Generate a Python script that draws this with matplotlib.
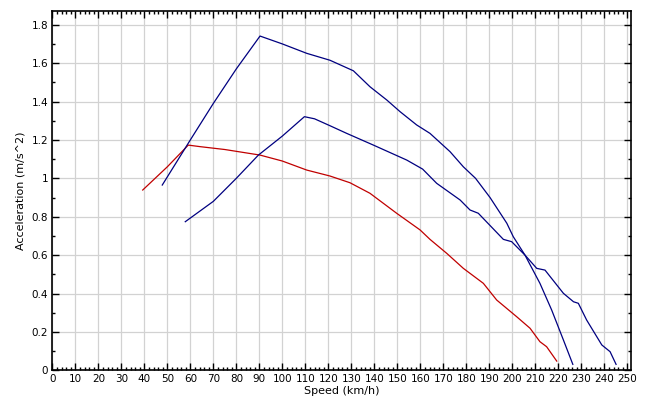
import numpy as np
import matplotlib
matplotlib.use("Agg")
import matplotlib.pyplot as plt
from matplotlib.ticker import MultipleLocator, FormatStrFormatter

# red curve
red_speed = [39.3, 50, 59.1, 64.2, 75, 90.3, 100, 110.6, 120.7, 129.4, 138.1, 149.7,
             159.9, 164.2, 171.5, 178.7, 187.4, 193.2, 201.9, 207.7, 212.0, 214.9, 219.3]
red_acc = [0.939, 1.06, 1.173, 1.165, 1.15, 1.121, 1.09, 1.043, 1.012, 0.977, 0.922, 0.818,
           0.731, 0.682, 0.609, 0.531, 0.453, 0.366, 0.279, 0.219, 0.149, 0.123, 0.048]

# upper blue curve
blue1_speed = [47.8, 60, 70, 80, 90.3, 100, 110.6, 120.7, 130.9, 138.1, 145.4, 151.2, 158.4,
               164.2, 172.9, 178.7, 184, 190.3, 197.6, 200.4, 205.5, 212.0, 217.1, 222.2, 226.3]
blue1_acc = [0.965, 1.2, 1.39, 1.57, 1.741, 1.70, 1.651, 1.615, 1.56, 1.477, 1.408, 1.347, 1.278,
             1.234, 1.139, 1.060, 1.0, 0.90, 0.766, 0.696, 0.600, 0.453, 0.314, 0.158, 0.031]

# lower blue curve
blue2_speed = [57.8, 70, 80, 89.6, 100, 109.6, 114, 120.7, 128, 139.6, 154.1, 161, 167.1,
               177.3, 181.6, 185.2, 196.1, 199.7, 205.5, 210.6, 214.2, 222.2, 226.6, 228.7,
               232.3, 238.9, 242.5, 245.1]
blue2_acc = [0.774, 0.88, 1.0, 1.121, 1.22, 1.321, 1.31, 1.274, 1.234, 1.173, 1.095, 1.048, 0.974,
             0.887, 0.835, 0.818, 0.682, 0.670, 0.600, 0.531, 0.522, 0.401, 0.357, 0.349,
             0.262, 0.132, 0.097, 0.031]

fig = plt.figure(figsize=(6.5, 4.04), dpi=100)
ax = fig.add_axes([0.0805, 0.0834, 0.8903, 0.8901])

ax.plot(red_speed, red_acc, color="#c00000", lw=0.9)
ax.plot(blue1_speed, blue1_acc, color="#000080", lw=0.9)
ax.plot(blue2_speed, blue2_acc, color="#000080", lw=0.9)

ax.set_xlim(0, 251.6)
ax.set_ylim(0, 1.873)

ax.xaxis.set_major_locator(MultipleLocator(10))
ax.xaxis.set_minor_locator(MultipleLocator(2))
ax.yaxis.set_major_locator(MultipleLocator(0.2))
ax.yaxis.set_minor_locator(MultipleLocator(0.1))
ax.yaxis.set_major_formatter(FormatStrFormatter('%g'))

ax.grid(True, which="major", color="#d2d2d2", lw=0.9)
ax.set_axisbelow(True)
ax.tick_params(which="both", direction="in", top=True, right=True,
               labelsize=7.5, pad=3, width=1)
ax.tick_params(which="major", length=5)
ax.tick_params(which="minor", length=2.5)
for s in ax.spines.values():
    s.set_linewidth(1.2)

ax.set_xlabel("Speed (km/h)", fontsize=8, labelpad=1)
ax.set_ylabel("Acceleration (m/s^2)", fontsize=8, labelpad=4)

fig.savefig("out.png", dpi=100)
